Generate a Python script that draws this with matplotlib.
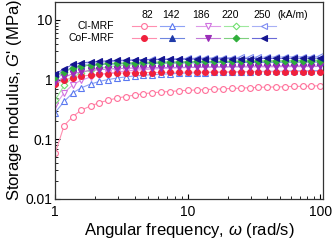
import matplotlib
matplotlib.use('Agg')
import matplotlib.pyplot as plt
from matplotlib.lines import Line2D

plt.rcParams['font.family'] = ['Liberation Sans', 'DejaVu Sans']
plt.rcParams['mathtext.fontset'] = 'custom'
plt.rcParams['mathtext.it'] = 'Liberation Sans:italic'
plt.rcParams['mathtext.rm'] = 'Liberation Sans'

# angular frequency sweep (rad/s)
freq = [1, 1.17, 1.36, 1.58, 1.85, 2.15, 2.51, 2.93, 3.41, 3.98, 4.64, 5.41, 6.31,
        7.36, 8.58, 10, 11.7, 13.6, 15.8, 18.5, 21.5, 25.1, 29.3, 34.1, 39.8, 46.4,
        54.1, 63.1, 73.6, 85.8, 100]

fields = ['82', '142', '186', '220', '250']

# storage modulus G' (MPa), CI-MRF
ci_82 = [0.058, 0.17, 0.24, 0.31, 0.36, 0.41, 0.45, 0.49, 0.52, 0.55, 0.58, 0.60, 0.62, 0.63, 0.65,
         0.66, 0.67, 0.68, 0.69, 0.70, 0.71, 0.72, 0.73, 0.74, 0.75, 0.75, 0.76, 0.77, 0.77, 0.78, 0.79]
ci_142 = [0.28, 0.43, 0.60, 0.73, 0.84, 0.93, 1.0, 1.06, 1.11, 1.15, 1.18, 1.21, 1.23, 1.25, 1.27,
          1.29, 1.3, 1.31, 1.32, 1.33, 1.34, 1.35, 1.36, 1.37, 1.38, 1.38, 1.39, 1.4, 1.4, 1.41, 1.42]
ci_186 = [0.37, 0.6, 0.82, 0.98, 1.1, 1.2, 1.28, 1.34, 1.39, 1.43, 1.47, 1.5, 1.53, 1.55, 1.57,
          1.59, 1.61, 1.62, 1.64, 1.65, 1.66, 1.67, 1.68, 1.69, 1.7, 1.71, 1.72, 1.73, 1.73, 1.74, 1.75]
ci_220 = [0.45, 0.8, 1.1, 1.3, 1.45, 1.56, 1.64, 1.7, 1.75, 1.79, 1.83, 1.86, 1.89, 1.91, 1.93,
          1.95, 1.97, 1.98, 2.0, 2.01, 2.02, 2.03, 2.04, 2.05, 2.06, 2.07, 2.08, 2.09, 2.1, 2.11, 2.12]
ci_250 = [0.95, 1.35, 1.6, 1.75, 1.85, 1.93, 1.99, 2.04, 2.08, 2.12, 2.15, 2.18, 2.2, 2.22, 2.24,
          2.26, 2.28, 2.3, 2.31, 2.33, 2.34, 2.35, 2.36, 2.37, 2.38, 2.39, 2.4, 2.41, 2.42, 2.43, 2.44]

# storage modulus G' (MPa), CoF-MRF
cof_82 = [0.85, 0.98, 1.07, 1.14, 1.19, 1.23, 1.26, 1.28, 1.29, 1.3, 1.31, 1.31, 1.32, 1.32, 1.33,
          1.33, 1.33, 1.34, 1.34, 1.34, 1.34, 1.35, 1.35, 1.35, 1.35, 1.35, 1.36, 1.36, 1.36, 1.36, 1.36]
cof_142 = [1.15, 1.4, 1.58, 1.68, 1.74, 1.78, 1.81, 1.83, 1.85, 1.86, 1.87, 1.88, 1.89, 1.9, 1.9,
           1.91, 1.91, 1.92, 1.92, 1.93, 1.93, 1.93, 1.94, 1.94, 1.94, 1.95, 1.95, 1.95, 1.96, 1.96, 1.96]
cof_186 = [0.9, 1.1, 1.25, 1.35, 1.42, 1.47, 1.5, 1.53, 1.55, 1.56, 1.57, 1.58, 1.59, 1.6, 1.6,
           1.61, 1.61, 1.62, 1.62, 1.62, 1.63, 1.63, 1.63, 1.64, 1.64, 1.64, 1.65, 1.65, 1.65, 1.65, 1.66]
cof_220 = [1.1, 1.35, 1.55, 1.68, 1.76, 1.82, 1.86, 1.89, 1.91, 1.93, 1.95, 1.96, 1.97, 1.98, 1.99,
           2.0, 2.01, 2.01, 2.02, 2.02, 2.03, 2.03, 2.04, 2.04, 2.05, 2.05, 2.06, 2.06, 2.07, 2.07, 2.08]
cof_250 = [1.25, 1.5, 1.8, 1.9, 1.97, 2.02, 2.06, 2.09, 2.11, 2.13, 2.15, 2.16, 2.17, 2.18, 2.19,
           2.2, 2.21, 2.22, 2.22, 2.23, 2.24, 2.24, 2.25, 2.25, 2.26, 2.26, 2.27, 2.27, 2.28, 2.28, 2.29]

ci_series = [ci_82, ci_142, ci_186, ci_220, ci_250]
cof_series = [cof_82, cof_142, cof_186, cof_220, cof_250]
markers = ['o', '^', 'v', 'D', '<']
ci_colors = ['#ff6f9a', '#5a78f0', '#d070e0', '#6ee06e', '#7f8cf2']
cof_colors = ['#f0203c', '#1f3aa8', '#9a2cb8', '#2fae3a', '#14148f']
ci_line = ['#ff8fb0', '#8ea2f5', '#dd9ae8', '#9ee89e', '#a8b0f5']
cof_line = ['#ff8fb0', '#6f86e0', '#c27ad6', '#7fd07f', '#6a6ad8']

fig = plt.figure(figsize=(3.32, 2.4), dpi=100)
ax = fig.add_axes([0.166, 0.171, 0.807, 0.821])

for i in range(5):
    ax.plot(freq, ci_series[i], marker=markers[i], ms=4.2 if markers[i] != 'D' else 3.4,
            mfc='white', mec=ci_colors[i], color=ci_line[i], lw=0.8, mew=0.8, zorder=2)
for i in range(5):
    ax.plot(freq, cof_series[i], marker=markers[i], ms=4.2 if markers[i] != 'D' else 3.4,
            mfc=cof_colors[i], mec=cof_colors[i], color=cof_line[i], lw=0.8, mew=0.8, zorder=3)

ax.set_xscale('log')
ax.set_yscale('log')
ax.set_xlim(1, 105)
ax.set_ylim(0.01, 20)
ax.set_xticks([1, 10, 100])
ax.set_xticklabels(['1', '10', '100'])
ax.set_yticks([0.01, 0.1, 1, 10])
ax.set_yticklabels(['0.01', '0.1', '1', '10'])
ax.tick_params(which='major', direction='in', length=3.5, width=0.8, labelsize=10)
ax.tick_params(axis='y', which='major', pad=2)
ax.tick_params(axis='x', which='major', pad=4)
ax.tick_params(which='minor', direction='in', length=2, width=0.6)
for s in ax.spines.values():
    s.set_linewidth(0.9)
    s.set_color('#333333')

ax.set_xlabel(r"Angular frequency, $\omega$ (rad/s)", fontsize=12, labelpad=2)
ax.set_ylabel(r"Storage modulus, $G$' (MPa)", fontsize=12, labelpad=1)

# manual legend grid
head_x = [0.343, 0.433, 0.545, 0.653, 0.772]
mark_x = [0.332, 0.437, 0.571, 0.675, 0.780]
for i in range(5):
    ax.text(head_x[i], 0.934, fields[i], transform=ax.transAxes, ha='center', va='center', fontsize=7.5)
    for yy, mfc, mec, lc in [(0.878, 'white', ci_colors[i], ci_line[i]),
                             (0.817, cof_colors[i], cof_colors[i], cof_line[i])]:
        ax.add_line(Line2D([mark_x[i] - 0.045, mark_x[i] + 0.045], [yy, yy], transform=ax.transAxes,
                           color=lc, lw=0.8))
        ax.add_line(Line2D([mark_x[i]], [yy], transform=ax.transAxes, marker=markers[i],
                           ms=4.2 if markers[i] != 'D' else 3.4, mfc=mfc, mec=mec, mew=0.8, ls='none'))
ax.text(0.888, 0.934, '(kA/m)', transform=ax.transAxes, ha='center', va='center', fontsize=7.5)
ax.text(0.22, 0.878, 'CI-MRF', transform=ax.transAxes, ha='right', va='center', fontsize=7.5)
ax.text(0.22, 0.817, 'CoF-MRF', transform=ax.transAxes, ha='right', va='center', fontsize=7.5)

fig.savefig('out.png', dpi=100)
